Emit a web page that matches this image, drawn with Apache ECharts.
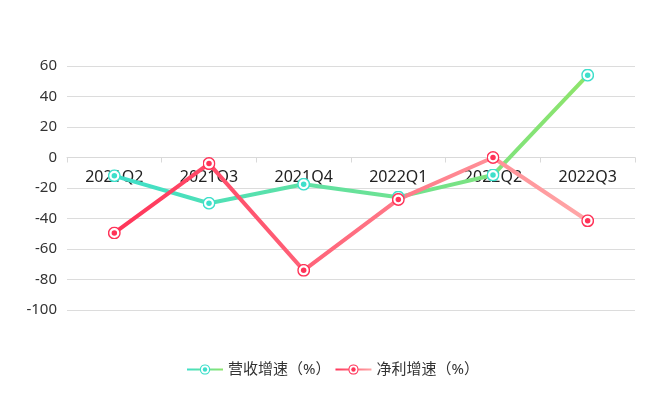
<!DOCTYPE html>
<html>
<head>
<meta charset="utf-8">
<script src="https://cdn.jsdelivr.net/npm/echarts@6/dist/echarts.min.js"></script>
<style>
html,body{margin:0;padding:0;background:#fff;}
#chart{width:670px;height:394px;}
</style>
</head>
<body>
<div id="chart"></div>
<script>
const categories = ['2021Q2', '2021Q3', '2021Q4', '2022Q1', '2022Q2', '2022Q3'];
const revenueGrowth = [-12, -30, -17.5, -26, -11.5, 54];
const profitGrowth = [-49.5, -4, -74, -27.5, 0, -41.5];
const seriesNames = ['营收增速（%）', '净利增速（%）'];
const yTicks = { min: -100, max: 60, interval: 20 };

function ringSymbol(color) {
  const svg = "<svg xmlns='http://www.w3.org/2000/svg' width='26' height='26' viewBox='0 0 26 26'>" +
    "<circle cx='13' cy='13' r='11.5' fill='#ffffff' stroke='" + color + "' stroke-width='3'/>" +
    "<circle cx='13' cy='13' r='5.5' fill='" + color + "'/></svg>";
  return 'image://data:image/svg+xml;charset=utf-8,' + encodeURIComponent(svg);
}

const FONT = "'Noto Sans', 'Noto Sans CJK SC', sans-serif";
const gridTop = 66, gridBottom = 84, chartH = 394;
const gridH = chartH - gridTop - gridBottom;
// place the category axis at the value-axis zero line
const xAxisOffset = -gridH * (0 - yTicks.min) / (yTicks.max - yTicks.min);

const chart = echarts.init(document.getElementById('chart'));
chart.setOption({
  animation: false,
  backgroundColor: '#fff',
  textStyle: { fontFamily: FONT },
  grid: { left: 67, right: 35, top: gridTop, bottom: gridBottom },
  legend: {
    bottom: 12,
    left: 181,
    itemWidth: 36,
    itemHeight: 13,
    itemGap: 4,
    textStyle: { color: '#333', fontSize: 15, fontFamily: FONT },
    data: seriesNames
  },
  xAxis: {
    type: 'category',
    data: categories,
    boundaryGap: true,
    position: 'bottom',
    offset: xAxisOffset,
    axisLine: { onZero: false, lineStyle: { color: '#d9d9d9' } },
    axisTick: { show: true, length: 5, lineStyle: { color: '#d9d9d9' } },
    axisLabel: { color: '#222', fontSize: 16, margin: 12, fontFamily: FONT }
  },
  yAxis: {
    type: 'value',
    min: yTicks.min,
    max: yTicks.max,
    interval: yTicks.interval,
    axisLine: { show: false },
    axisTick: { show: false },
    axisLabel: { color: '#333', fontSize: 15, margin: 10, fontFamily: FONT },
    splitLine: { lineStyle: { color: '#dcdcdc' } }
  },
  series: [
    {
      name: seriesNames[0],
      type: 'line',
      data: revenueGrowth,
      symbol: ringSymbol('#3EDFCB'),
      symbolSize: 13,
      lineStyle: {
        width: 4,
        color: new echarts.graphic.LinearGradient(0, 0, 1, 0, [
          { offset: 0, color: '#3EDFCB' },
          { offset: 1, color: '#8FE46A' }
        ])
      },
      itemStyle: { color: '#3EDFCB' }
    },
    {
      name: seriesNames[1],
      type: 'line',
      data: profitGrowth,
      symbol: ringSymbol('#FF3358'),
      symbolSize: 13,
      lineStyle: {
        width: 4,
        color: new echarts.graphic.LinearGradient(0, 0, 1, 0, [
          { offset: 0, color: '#FF3358' },
          { offset: 1, color: '#FFA8A8' }
        ])
      },
      itemStyle: { color: '#FF3358' }
    }
  ]
});
</script>
</body>
</html>
